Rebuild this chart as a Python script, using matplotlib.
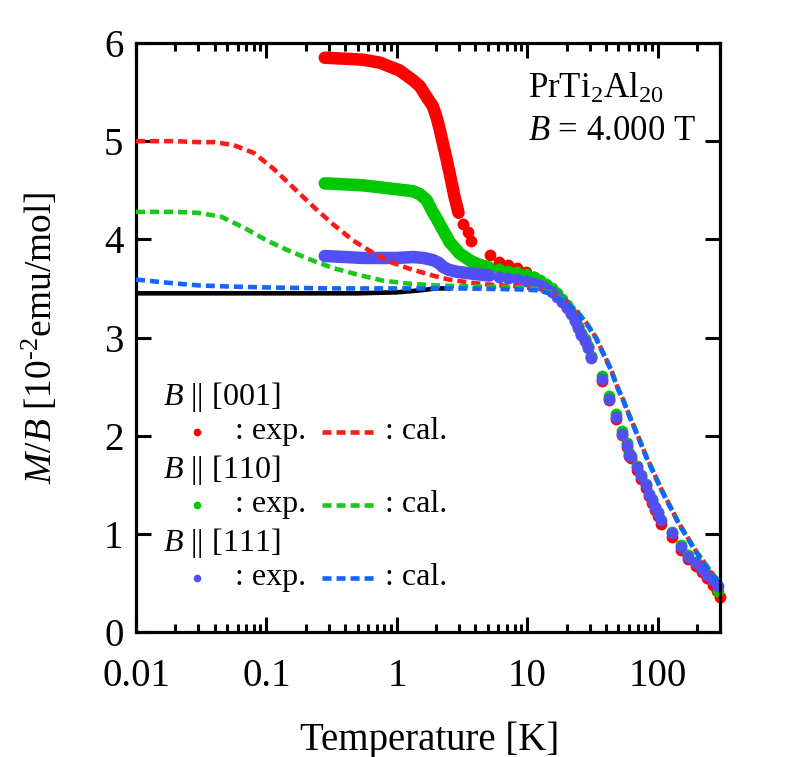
import matplotlib
matplotlib.use("Agg")
import matplotlib.pyplot as plt
from matplotlib.ticker import LogLocator, FixedLocator, NullFormatter

plt.rcParams['font.family'] = ['Liberation Serif', 'DejaVu Serif']
plt.rcParams['mathtext.fontset'] = 'custom'
plt.rcParams['mathtext.rm'] = 'Liberation Serif'
plt.rcParams['mathtext.it'] = 'Liberation Serif:italic'
plt.rcParams['lines.scale_dashes'] = False

# ---------------- data ----------------
# experimental, B || [001]
red_T_lo = [0.28, 0.4, 0.55, 0.74, 1.05, 1.33, 1.5, 1.69, 1.88, 2.02, 2.13, 2.25, 2.4, 2.54, 2.77, 2.97]
red_M_lo = [5.85, 5.84, 5.83, 5.80, 5.72, 5.62, 5.56, 5.45, 5.36, 5.24, 5.12, 4.98, 4.82, 4.67, 4.43, 4.27]
red_T_hi = [3.2, 3.5, 3.67, 5.2, 6.1, 7.1, 8.3, 9.7, 11.3, 12.5, 14, 15.5, 17, 18.5, 20, 21.5, 23, 24.5,
            26, 27.5, 29, 31, 37.5, 42, 48, 53, 58, 60, 62, 69, 74, 81, 85, 90, 96, 101, 106, 128, 150,
            172, 195, 217, 238, 267, 285, 300]
red_M_hi = [4.16, 4.07, 3.98, 3.84, 3.77, 3.74, 3.71, 3.67, 3.62, 3.58, 3.53, 3.47, 3.42, 3.37, 3.31, 3.25,
            3.18, 3.11, 3.04, 2.97, 2.90, 2.80, 2.56, 2.36, 2.17, 2.01, 1.88, 1.79, 1.77, 1.65, 1.56, 1.47,
            1.39, 1.31, 1.24, 1.18, 1.10, 0.97, 0.84, 0.74, 0.67, 0.61, 0.55, 0.48, 0.42, 0.36]

# experimental, B || [110]
grn_T_lo = [0.28, 0.4, 0.55, 0.74, 1.0, 1.33, 1.5, 1.69, 1.88, 2.0, 2.2, 2.4, 2.54, 2.75, 3.0, 3.4, 3.8, 4.3, 4.9, 5.1]
grn_M_lo = [4.57, 4.56, 4.55, 4.53, 4.51, 4.49, 4.46, 4.40, 4.28, 4.22, 4.12, 4.03, 3.97, 3.92, 3.86, 3.81, 3.77, 3.74, 3.72, 3.71]
grn_T_hi = [6.1, 7.1, 8.3, 9.7, 11.3, 12.5, 14, 15.5, 17, 18.5, 20, 21.5, 23, 24.5, 26, 27.5, 29, 31,
            37.5, 42, 48, 53, 58, 60, 69, 74, 81, 90, 101, 128, 150, 172, 195, 217, 238, 267, 290]
grn_M_hi = [3.70, 3.68, 3.67, 3.65, 3.62, 3.59, 3.55, 3.50, 3.45, 3.39, 3.33, 3.26, 3.19, 3.12, 3.05, 2.98,
            2.91, 2.81, 2.61, 2.40, 2.22, 2.05, 1.93, 1.82, 1.69, 1.60, 1.51, 1.35, 1.22, 1.02, 0.89, 0.78,
            0.71, 0.65, 0.59, 0.53, 0.42]

# experimental, B || [111]
blu_T_lo = [0.28, 0.4, 0.55, 0.74, 1.0, 1.33, 1.6, 1.88, 2.1, 2.25, 2.5, 2.87, 3.3, 3.8, 4.4, 5.1]
blu_M_lo = [3.83, 3.82, 3.81, 3.81, 3.81, 3.82, 3.81, 3.79, 3.76, 3.72, 3.69, 3.67, 3.66, 3.65, 3.64, 3.63]
blu_T_hi = [6.1, 7.1, 8.3, 9.7, 11.3, 12.5, 14, 15.5, 17, 18.5, 20, 21.5, 23, 24.5, 26, 27.5, 29, 31,
            37.5, 42, 48, 53, 58, 60, 62, 69, 74, 81, 85, 90, 96, 101, 106, 128, 150, 172, 195, 217,
            238, 267, 290]
blu_M_hi = [3.62, 3.61, 3.60, 3.58, 3.56, 3.53, 3.50, 3.46, 3.41, 3.36, 3.30, 3.24, 3.17, 3.10, 3.03, 2.96,
            2.89, 2.79, 2.58, 2.37, 2.19, 2.02, 1.90, 1.80, 1.79, 1.68, 1.59, 1.50, 1.41, 1.34, 1.27, 1.21,
            1.14, 1.01, 0.87, 0.76, 0.70, 0.64, 0.58, 0.53, 0.47]

# calculations
red_cal_T = [0.01, 0.02, 0.03, 0.04, 0.056, 0.08, 0.113, 0.16, 0.23, 0.32, 0.46, 0.66, 0.93, 1.25, 1.9,
             2.5, 3.6, 4.9, 8.7, 12.3, 15.5, 19.8, 24, 28.7, 33.6, 38.6, 43.7, 48.6, 55, 60, 68, 81, 107,
             145, 195, 260, 300]
red_cal_M = [5.00, 5.00, 4.99, 4.99, 4.96, 4.88, 4.72, 4.53, 4.33, 4.16, 3.99, 3.86, 3.76, 3.70, 3.63,
             3.59, 3.56, 3.54, 3.52, 3.49, 3.45, 3.37, 3.27, 3.14, 3.00, 2.83, 2.68, 2.51, 2.35, 2.22, 2.05,
             1.80, 1.45, 1.11, 0.83, 0.60, 0.50]
grn_cal_T = [0.01, 0.02, 0.03, 0.045, 0.067, 0.1, 0.145, 0.22, 0.32, 0.5, 0.78, 1.2, 2.0, 4.0, 8.7, 12.3,
             15.5, 19.8, 24, 28.7, 33.6, 38.6, 43.7, 48.6, 55, 60, 68, 81, 107, 145, 195, 260, 300]
grn_cal_M = [4.28, 4.28, 4.27, 4.23, 4.12, 3.99, 3.89, 3.79, 3.71, 3.64, 3.58, 3.55, 3.53, 3.52, 3.51, 3.49,
             3.45, 3.37, 3.27, 3.14, 3.00, 2.83, 2.68, 2.51, 2.35, 2.22, 2.05, 1.80, 1.45, 1.11, 0.83, 0.60, 0.50]
blu_cal_T = [0.01, 0.02, 0.031, 0.05, 0.1, 0.3, 1.0, 3.0, 8.7, 12.3, 15.5, 19.8, 24, 28.7, 33.6, 38.6, 43.7,
             48.6, 55, 60, 68, 81, 107, 145, 195, 260, 300]
blu_cal_M = [3.59, 3.55, 3.53, 3.52, 3.51, 3.50, 3.50, 3.50, 3.49, 3.48, 3.44, 3.36, 3.26, 3.13, 2.99, 2.82,
             2.67, 2.50, 2.34, 2.21, 2.04, 1.79, 1.44, 1.10, 0.82, 0.59, 0.49]
blk_T = [0.01, 0.1, 0.5, 1.0, 1.5, 2.0, 2.5]
blk_M = [3.45, 3.45, 3.45, 3.46, 3.48, 3.50, 3.50]

xticks = [0.01, 0.1, 1, 10, 100]
xticklabels = ['0.01', '0.1', '1', '10', '100']
yticks = [0, 1, 2, 3, 4, 5, 6]

RED = '#ff0000'
GRN = '#00c800'
BLU = '#5050f5'
RED_C = '#ff1a1a'
GRN_C = '#19c819'
BLU_C = '#1464ff'

# ---------------- figure ----------------
fig = plt.figure(figsize=(8.07, 7.57), dpi=100)
ax = fig.add_axes([136/807, 1-632/757, 584/807, 589/757])

ms = 8.5
for Tl, Ml, Th, Mh, c in [(red_T_lo, red_M_lo, red_T_hi, red_M_hi, RED),
                          (grn_T_lo, grn_M_lo, grn_T_hi, grn_M_hi, GRN),
                          (blu_T_lo, blu_M_lo, blu_T_hi, blu_M_hi, BLU)]:
    ax.plot(Tl, Ml, '-', color=c, lw=9, solid_capstyle='round', solid_joinstyle='round', zorder=2)
    ax.plot(Th, Mh, 'o', color=c, ms=ms, mec='none', zorder=2, clip_on=False)

dash = (6.5, 3.6)
lwc = 3.3
ax.plot(blk_T, blk_M, '-', color='black', lw=lwc, zorder=3)
ax.plot(red_cal_T, red_cal_M, color=RED_C, lw=lwc, dashes=dash, zorder=3)
ax.plot(grn_cal_T, grn_cal_M, color=GRN_C, lw=lwc, dashes=dash, zorder=3)
ax.plot(blu_cal_T, blu_cal_M, color=BLU_C, lw=lwc, dashes=dash, zorder=3)

ax.set_xscale('log')
ax.set_xlim(0.01, 300)
ax.set_ylim(0, 6)
ax.xaxis.set_major_locator(FixedLocator(xticks))
ax.set_xticklabels(xticklabels)
ax.xaxis.set_minor_locator(LogLocator(base=10, subs=range(2, 10), numticks=20))
ax.xaxis.set_minor_formatter(NullFormatter())
ax.set_yticks(yticks)
ax.set_yticklabels([str(v) for v in yticks])

for s in ax.spines.values():
    s.set_linewidth(2.3)
ax.tick_params(which='both', direction='in', top=True, right=True, width=2.2)
ax.tick_params(which='major', length=11, labelsize=28)
ax.tick_params(axis='x', which='major', pad=19)
ax.tick_params(axis='y', which='major', pad=9)
ax.tick_params(which='minor', length=6)

ax.set_xlabel('Temperature [K]', fontsize=28, va='center')
ax.xaxis.set_label_coords(0.503, -0.183)
ax.set_ylabel('$M/B$ [10$^{\u2010 2}$emu/mol]', fontsize=27, va='center')
ax.yaxis.set_label_coords(-0.164, 0.50)

ax.text(0.671, 0.907, r'PrTi$_2$Al$_{20}$', transform=ax.transAxes, fontsize=25, ha='left', va='baseline')
ax.text(0.671, 0.835, r'$B$ = 4.000 T', transform=ax.transAxes, fontsize=25, ha='left', va='baseline')

# legend (manual layout)
groups = [('[001]', RED, RED_C), ('[110]', GRN, GRN_C), ('[111]', BLU, BLU_C)]
hdr_y = [0.399, 0.275, 0.151]
row_y = [0.340, 0.216, 0.092]
for (lab, c, cc), hy, ry in zip(groups, hdr_y, row_y):
    ax.text(0.046, hy, r'$B$ || ' + lab, transform=ax.transAxes, fontsize=23, ha='left', va='center')
    ax.plot([0.1045], [ry], 'o', color=c, ms=5.5, mec='none', transform=ax.transAxes)
    ax.text(0.170, ry, ': exp.', transform=ax.transAxes, fontsize=23, ha='left', va='center')
    ax.plot([0.318, 0.414], [ry, ry], color=cc, lw=lwc, dashes=dash, transform=ax.transAxes)
    ax.text(0.426, ry, ': cal.', transform=ax.transAxes, fontsize=23, ha='left', va='center')

fig.savefig('out.png', dpi=100)
